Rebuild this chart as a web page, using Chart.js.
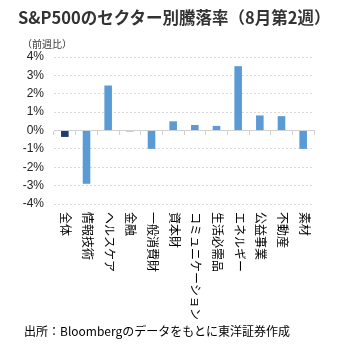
<!DOCTYPE html>
<html lang="ja">
<head>
<meta charset="utf-8">
<script src="https://cdn.jsdelivr.net/npm/chart.js@4.4.1/dist/chart.umd.min.js"></script>
<style>
  html, body { margin: 0; padding: 0; background: #fff; }
  #wrap { position: relative; width: 340px; height: 349px; overflow: hidden; }
  #chart { position: absolute; left: 0; top: 0; }
  .txt { position: absolute; white-space: nowrap; color: #000; font-family: "Noto Sans CJK JP", sans-serif; line-height: 1; }
  #title { left: 18px; top: 9px; font-size: 16.5px; font-weight: bold; color: #333; }
  #unit { left: 22px; top: 39px; font-size: 10px; color: #333; }
  #source { left: 24px; top: 325px; font-size: 12px; }
</style>
</head>
<body>
<div id="wrap">
  <canvas id="chart" width="340" height="349"></canvas>
  <div class="txt" id="title">S&amp;P500のセクター別騰落率（8月第2週）</div>
  <div class="txt" id="unit">（前週比）</div>
  <div class="txt" id="source">出所：Bloombergのデータをもとに東洋証券作成</div>
</div>
<script>
// sectors and weekly change (%)
const sectors = ['全体', '情報技術', 'ヘルスケア', '金融', '一般消費財', '資本財',
    'コミュニケーション', '生活必需品', 'エネルギー', '公益事業', '不動産', '素材'];
const weeklyChange = [-0.35, -2.9, 2.45, -0.05, -1.0, 0.5, 0.3, 0.25, 3.5, 0.82, 0.78, -1.0];
const yTicks = [-4, -3, -2, -1, 0, 1, 2, 3, 4];

const barColor = '#5b9bd5';
const totalColor = '#1f3a6e';

// vertical category labels, reading top to bottom
const sectorLabels = {
    id: 'sectorLabels',
    afterDraw(chart) {
        const ctx = chart.ctx;
        const xScale = chart.scales.x;
        ctx.save();
        ctx.font = '12px "Noto Sans CJK JP", sans-serif';
        ctx.fillStyle = '#000';
        ctx.textAlign = 'left';
        ctx.textBaseline = 'middle';
        sectors.forEach((name, i) => {
            const x = xScale.getPixelForValue(i);
            ctx.save();
            ctx.translate(x + 1, chart.chartArea.bottom + 8);
            ctx.rotate(Math.PI / 2);
            ctx.fillText(name, 0, 0);
            ctx.restore();
        });
        ctx.restore();
    }
};

new Chart(document.getElementById('chart'), {
    type: 'bar',
    data: {
        labels: sectors,
        datasets: [{
            data: weeklyChange,
            backgroundColor: weeklyChange.map((v, i) => i === 0 ? totalColor : barColor),
            barPercentage: 0.35,
            categoryPercentage: 1
        }]
    },
    options: {
        responsive: false,
        animation: false,
        layout: { padding: { top: 57, left: 0, right: 26, bottom: 145 } },
        plugins: {
            legend: { display: false },
            tooltip: { enabled: false }
        },
        scales: {
            x: {
                position: { y: 0 },
                offset: true,
                ticks: { display: false },
                grid: {
                    offset: true,
                    drawOnChartArea: false,
                    drawTicks: true,
                    tickLength: 4,
                    tickColor: '#d0d0d0'
                },
                border: { display: true, color: '#d0d0d0', width: 1 }
            },
            y: {
                min: -4,
                max: 4,
                afterFit: (scale) => { scale.width = 54; },
                afterBuildTicks: (scale) => { scale.ticks = yTicks.map(v => ({ value: v })); },
                ticks: {
                    padding: 10,
                    color: '#222',
                    font: { family: '"Liberation Sans", Arial, sans-serif', size: 12 },
                    callback: (v) => v + '%'
                },
                grid: {
                    drawTicks: false,
                    color: (c) => c.tick && c.tick.value === 0 ? 'rgba(0,0,0,0)' : '#d9d9d9'
                },
                border: { display: false, dash: [2, 2] }
            }
        }
    },
    plugins: [sectorLabels]
});
</script>
</body>
</html>
